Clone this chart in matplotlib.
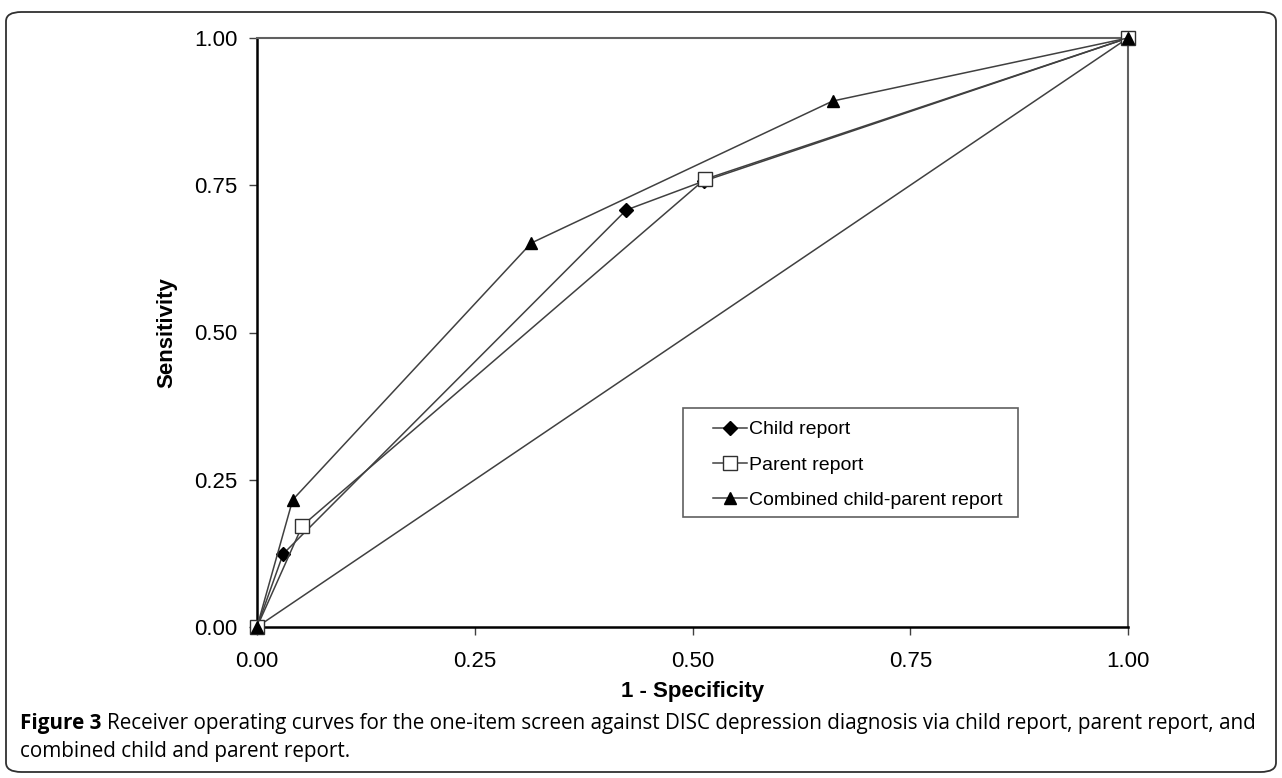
import matplotlib.pyplot as plt
from matplotlib.patches import FancyBboxPatch, Rectangle
from matplotlib.ticker import FormatStrFormatter

# ROC points
child_x = [0.0, 0.030, 0.424, 0.513, 1.0]
child_y = [0.0, 0.124, 0.708, 0.757, 1.0]
parent_x = [0.0, 0.052, 0.514, 1.0]
parent_y = [0.0, 0.172, 0.760, 1.0]
comb_x = [0.0, 0.041, 0.315, 0.661, 1.0]
comb_y = [0.0, 0.216, 0.652, 0.893, 1.0]
ref_x = [0.0, 1.0]
ref_y = [0.0, 1.0]
ticks = [0.0, 0.25, 0.5, 0.75, 1.0]

plt.rcParams['font.family'] = ['Liberation Sans', 'DejaVu Sans']

fig = plt.figure(figsize=(12.82, 7.78), dpi=100)
ax = fig.add_axes([257/1282, 1 - 627/778, (1128-257)/1282, (627-38)/778])

lc = '#404040'
ax.plot(ref_x, ref_y, color=lc, lw=1.1, clip_on=False)
ax.plot(child_x, child_y, color=lc, lw=1.1, marker='D', ms=7, mfc='black', mec='black',
        label='Child report', clip_on=False, zorder=3)
ax.plot(parent_x, parent_y, color=lc, lw=1.1, marker='s', ms=10, mfc='white', mec='#303030', mew=1,
        label='Parent report', clip_on=False, zorder=4)
ax.plot(comb_x, comb_y, color=lc, lw=1.1, marker='^', ms=9, mfc='black', mec='black',
        label='Combined child-parent report', clip_on=False, zorder=5)

ax.set_xlim(0, 1)
ax.set_ylim(0, 1)
ax.set_xticks(ticks)
ax.set_yticks(ticks)
ax.xaxis.set_major_formatter(FormatStrFormatter('%.2f'))
ax.yaxis.set_major_formatter(FormatStrFormatter('%.2f'))
ax.tick_params(direction='out', length=6, width=1, labelsize=16, color='#404040')
ax.tick_params(axis='x', pad=11)
ax.tick_params(axis='y', pad=8)
ax.spines['left'].set_color('black')
ax.spines['bottom'].set_color('black')
ax.spines['left'].set_linewidth(1.8)
ax.spines['bottom'].set_linewidth(1.8)
ax.spines['top'].set_color('#606060')
ax.spines['right'].set_color('#606060')
ax.spines['top'].set_linewidth(1.5)
ax.spines['right'].set_linewidth(1.5)

ax.set_xlabel('1 - Specificity', fontsize=16, fontweight='bold', labelpad=7)
ax.set_ylabel('Sensitivity', fontsize=16, fontweight='bold', labelpad=12)

# legend box drawn separately, entries placed inside it
box = Rectangle(((683-257)/871, (627-517)/589), (1018-683)/871, (517-408)/589,
                transform=ax.transAxes, fill=True, facecolor='white', edgecolor='#606060',
                lw=1.2, zorder=6)
ax.add_patch(box)
leg = ax.legend(loc='upper left', bbox_to_anchor=((707-257)/871, (627-415)/589),
                fontsize=14, frameon=False, handlelength=1.75, handletextpad=0.1,
                borderpad=0.3, labelspacing=0.9, borderaxespad=0)
leg.set_zorder(7)

# outer rounded frame
frame = FancyBboxPatch((6/1282, 6/778), 1270/1282, (772-12)/778,
                       boxstyle='round,pad=0,rounding_size=0.012', transform=fig.transFigure,
                       fill=False, edgecolor='#303030', lw=1.3)
fig.patches.append(frame)

cap_font = ['Open Sans', 'DejaVu Sans']
cap_size = 14.9
t1 = fig.text(20/1282, 1 - 723/778, 'Figure 3', fontsize=cap_size, fontweight='bold',
              family=cap_font, va='center', ha='left')
fig.canvas.draw()
r = fig.canvas.get_renderer()
bb = t1.get_window_extent(r)
fig.text((bb.x1 + 6) / 1282, 1 - 723/778,
         'Receiver operating curves for the one-item screen against DISC depression diagnosis via child report, parent report, and',
         fontsize=cap_size, family=cap_font, va='center', ha='left')
fig.text(20/1282, 1 - 752/778, 'combined child and parent report.', fontsize=cap_size,
         family=cap_font, va='center', ha='left')

fig.savefig('out.png', dpi=100)
